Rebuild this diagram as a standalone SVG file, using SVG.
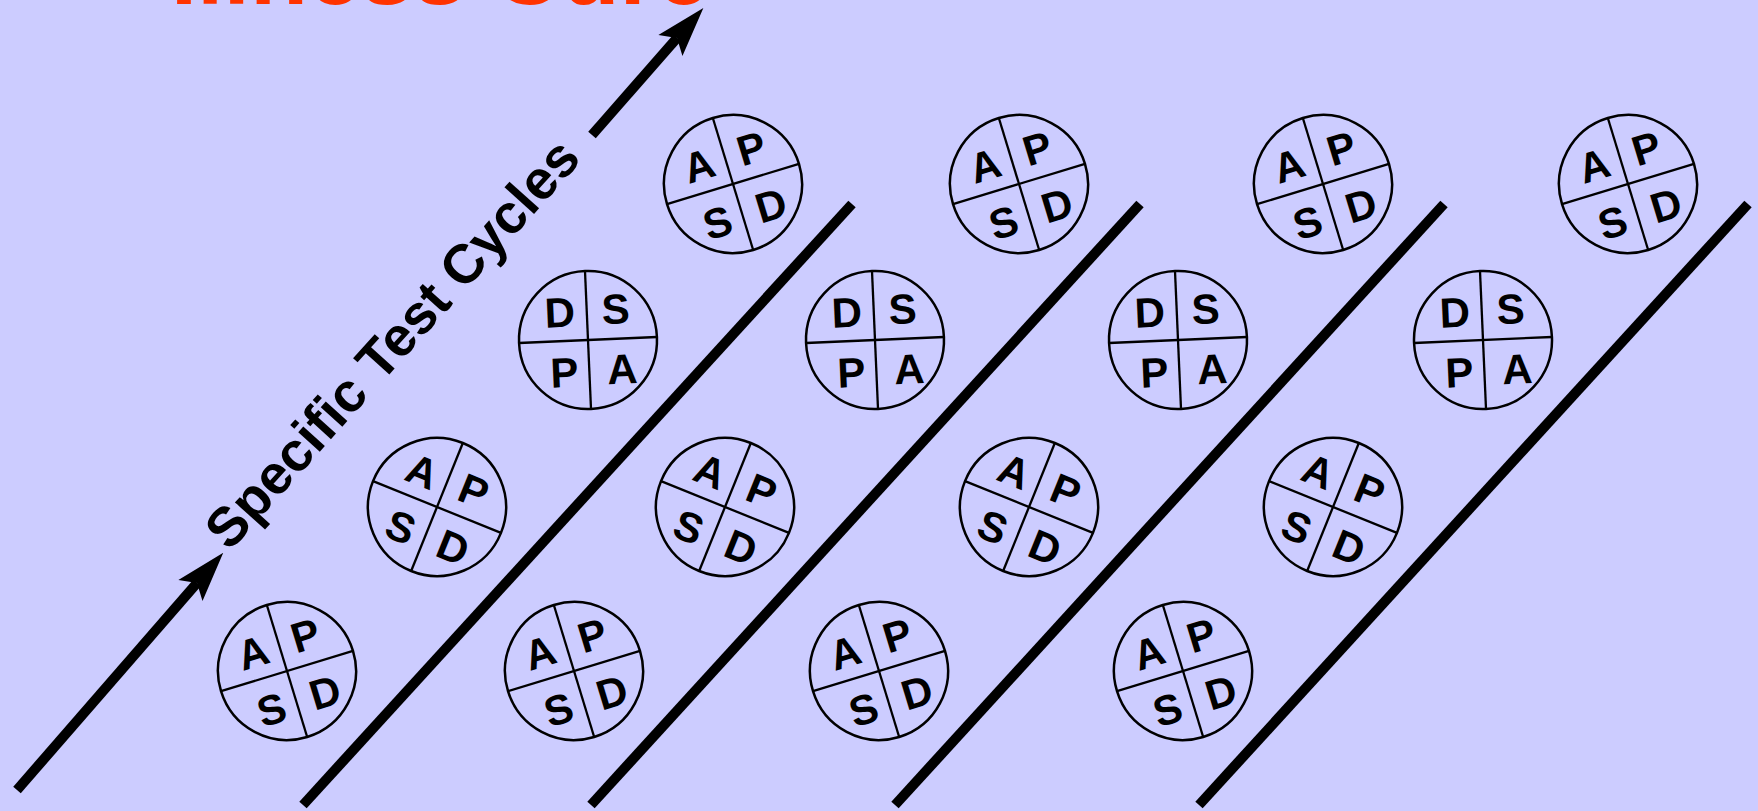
<svg xmlns="http://www.w3.org/2000/svg" width="1758" height="811" viewBox="0 0 1758 811">
<defs>
<style>
.bg{fill:#CCCCFF}
.ring{fill:none;stroke:#000;stroke-width:2.5}
.cross{stroke:#000;stroke-width:2.3}
.lt{font-family:"Liberation Sans",Arial,sans-serif;font-weight:bold;font-size:42px;fill:#000;text-anchor:middle}
.thick{stroke:#000;stroke-width:10;stroke-linecap:butt;fill:none}
.title{font-family:"Liberation Sans",Arial,sans-serif;font-weight:bold;font-size:95px;fill:#FF3300;text-anchor:middle}
.lab{font-family:"Liberation Sans",Arial,sans-serif;font-weight:bold;font-size:55px;fill:#000;text-anchor:middle}
</style>
<marker id="ah" markerUnits="userSpaceOnUse" viewBox="-15 -20 60 40" markerWidth="60" markerHeight="40" refX="5" refY="0" orient="auto">
<path d="M45,0 L-5,-16 L5,0 L-5,16 Z" fill="#000"/>
</marker>
<g id="apsd">
<circle class="ring" r="69"/>
<line class="cross" x1="0" y1="-69" x2="0" y2="69"/>
<line class="cross" x1="-69" y1="0" x2="69" y2="0"/>
<text class="lt" x="-27" y="-13">A</text>
<text class="lt" x="28" y="-14">P</text>
<text class="lt" x="-26" y="47">S</text>
<text class="lt" x="30" y="46">D</text>
</g>
<g id="dspa">
<circle class="ring" r="69"/>
<line class="cross" x1="0" y1="-69" x2="0" y2="69"/>
<line class="cross" x1="-69" y1="0" x2="69" y2="0"/>
<text class="lt" x="-27" y="-14">D</text>
<text class="lt" x="29" y="-15">S</text>
<text class="lt" x="-25" y="46">P</text>
<text class="lt" x="33" y="45">A</text>
</g>
</defs>
<rect class="bg" x="0" y="0" width="1758" height="811"/>
<text id="title" class="title" x="440" y="4">Illness Cure</text>
<g id="connectors">
<line class="thick" x1="17" y1="790" x2="197" y2="583" marker-end="url(#ah)"/>
<line class="thick" x1="592" y1="135" x2="677" y2="38" marker-end="url(#ah)"/>
<line class="thick" x1="303" y1="805" x2="852" y2="204"/>
<line class="thick" x1="591" y1="805" x2="1140" y2="204"/>
<line class="thick" x1="895" y1="805" x2="1444" y2="204"/>
<line class="thick" x1="1199" y1="805" x2="1748" y2="204"/>
</g>
<text id="label" class="lab" transform="translate(406,356) rotate(-48)">Specific Test Cycles</text>
<g id="c1-1"><use href="#apsd" transform="translate(287,671) rotate(-17)"/></g>
<g id="c1-2"><use href="#apsd" transform="translate(437,507) rotate(22)"/></g>
<g id="c1-3"><use href="#dspa" transform="translate(588,340) rotate(-2.5)"/></g>
<g id="c1-4"><use href="#apsd" transform="translate(733,184) rotate(-17)"/></g>
<g id="c2-1"><use href="#apsd" transform="translate(574,671) rotate(-17)"/></g>
<g id="c2-2"><use href="#apsd" transform="translate(725,507) rotate(22)"/></g>
<g id="c2-3"><use href="#dspa" transform="translate(875,340) rotate(-2.5)"/></g>
<g id="c2-4"><use href="#apsd" transform="translate(1019,184) rotate(-17)"/></g>
<g id="c3-1"><use href="#apsd" transform="translate(879,671) rotate(-17)"/></g>
<g id="c3-2"><use href="#apsd" transform="translate(1029,507) rotate(22)"/></g>
<g id="c3-3"><use href="#dspa" transform="translate(1178,340) rotate(-2.5)"/></g>
<g id="c3-4"><use href="#apsd" transform="translate(1323,184) rotate(-17)"/></g>
<g id="c4-1"><use href="#apsd" transform="translate(1183,671) rotate(-17)"/></g>
<g id="c4-2"><use href="#apsd" transform="translate(1333,507) rotate(22)"/></g>
<g id="c4-3"><use href="#dspa" transform="translate(1483,340) rotate(-2.5)"/></g>
<g id="c4-4"><use href="#apsd" transform="translate(1628,184) rotate(-17)"/></g>
</svg>
